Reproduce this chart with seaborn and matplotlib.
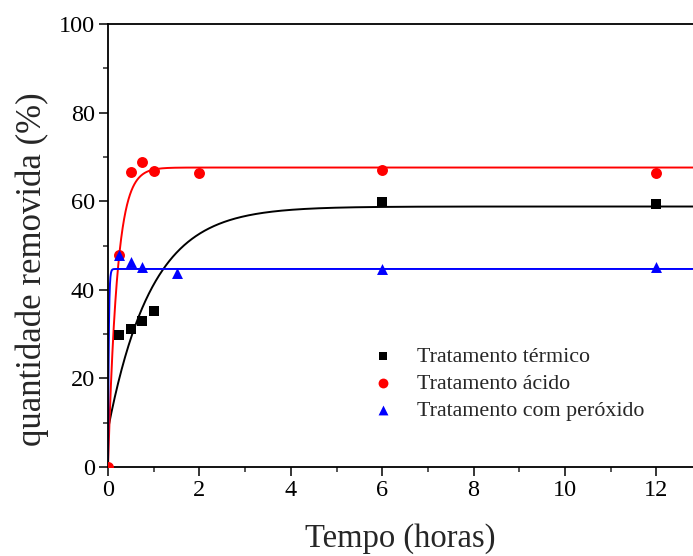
import numpy as np
import pandas as pd
import seaborn as sns
import matplotlib
matplotlib.use("Agg")
import matplotlib.pyplot as plt
from matplotlib.ticker import MultipleLocator

# Measured removal (%) over time (hours)
t_termico = [0.25, 0.5, 0.75, 1.0, 6, 12]
y_termico = [29.7, 31.1, 32.9, 35.3, 59.9, 59.3]

t_acido = [0, 0.25, 0.5, 0.75, 1.0, 2, 6, 12]
y_acido = [0, 47.9, 66.5, 68.8, 66.8, 66.4, 67.0, 66.4]

t_peroxido = [0.25, 0.5, 0.75, 1.5, 6, 12]
y_peroxido = [47.8, 46.3, 45.1, 43.9, 44.8, 45.2]

labels = ["Tratamento térmico", "Tratamento ácido", "Tratamento com peróxido"]

# First-order kinetic fit parameters: y = y0 + (ymax - y0) * (1 - exp(-k t))
fit_termico = dict(y0=8.5, ymax=58.8, k=1.05)
fit_acido = dict(y0=0.0, ymax=67.6, k=5.0)
fit_peroxido = dict(y0=0.0, ymax=44.7, k=60.0)

sns.set_theme(style="ticks")
plt.rcParams["font.family"] = ["Liberation Serif", "DejaVu Serif"]

fig = plt.figure(figsize=(6.93, 5.56), dpi=100)
ax = fig.add_axes([108 / 693, (556 - 467) / 556, (693 - 108) / 693, (467 - 24) / 556])

t_fit = np.linspace(0, 12.8, 1200)


def model(t, y0, ymax, k):
    return y0 + (ymax - y0) * (1 - np.exp(-k * t))


curves = [
    (fit_termico, "black"),
    (fit_acido, "#ff0000"),
    (fit_peroxido, "#0000ff"),
]
for params, color in curves:
    df_fit = pd.DataFrame({"t": t_fit, "y": model(t_fit, **params)})
    sns.lineplot(data=df_fit, x="t", y="y", color=color, lw=1.4, ax=ax,
                 legend=False, zorder=2)

series = [
    (t_termico, y_termico, "s", "black", 48, labels[0]),
    (t_acido, y_acido, "o", "#ff0000", 62, labels[1]),
    (t_peroxido, y_peroxido, "^", "#0000ff", 62, labels[2]),
]
for t, y, mk, color, size, lab in series:
    df = pd.DataFrame({"t": t, "y": y})
    sns.scatterplot(data=df, x="t", y="y", marker=mk, color=color, s=size,
                    edgecolor=color, linewidth=0, ax=ax, label=lab, zorder=3)

ax.set_xlim(0, (693 - 108) / 45.7)
ax.set_ylim(0, 100)
ax.xaxis.set_major_locator(MultipleLocator(2))
ax.xaxis.set_minor_locator(MultipleLocator(1))
ax.yaxis.set_major_locator(MultipleLocator(20))
ax.yaxis.set_minor_locator(MultipleLocator(10))

ax.spines["right"].set_visible(False)
for s in ["left", "bottom", "top"]:
    ax.spines[s].set_linewidth(1.3)
    ax.spines[s].set_color("black")

ax.tick_params(axis="both", which="major", direction="out", length=6.5,
               width=1.1, labelsize=17.5, colors="black", pad=3)
ax.tick_params(axis="both", which="minor", direction="out", length=3.8,
               width=1.1)
ax.tick_params(axis="x", which="both", top=False)

ax.set_xlabel("Tempo (horas)", fontsize=23.5)
ax.set_ylabel("quantidade removida (%)", fontsize=25)
ax.xaxis.set_label_coords(0.5, -0.126)
ax.yaxis.set_label_coords(-0.1, 0.447)

leg = ax.legend(loc="upper left", bbox_to_anchor=(0.41, 0.317), frameon=False,
                fontsize=15.8, handletextpad=0.85, labelspacing=0.3,
                markerscale=0.9, handlelength=1.4)

fig.savefig("out.png", dpi=100)
